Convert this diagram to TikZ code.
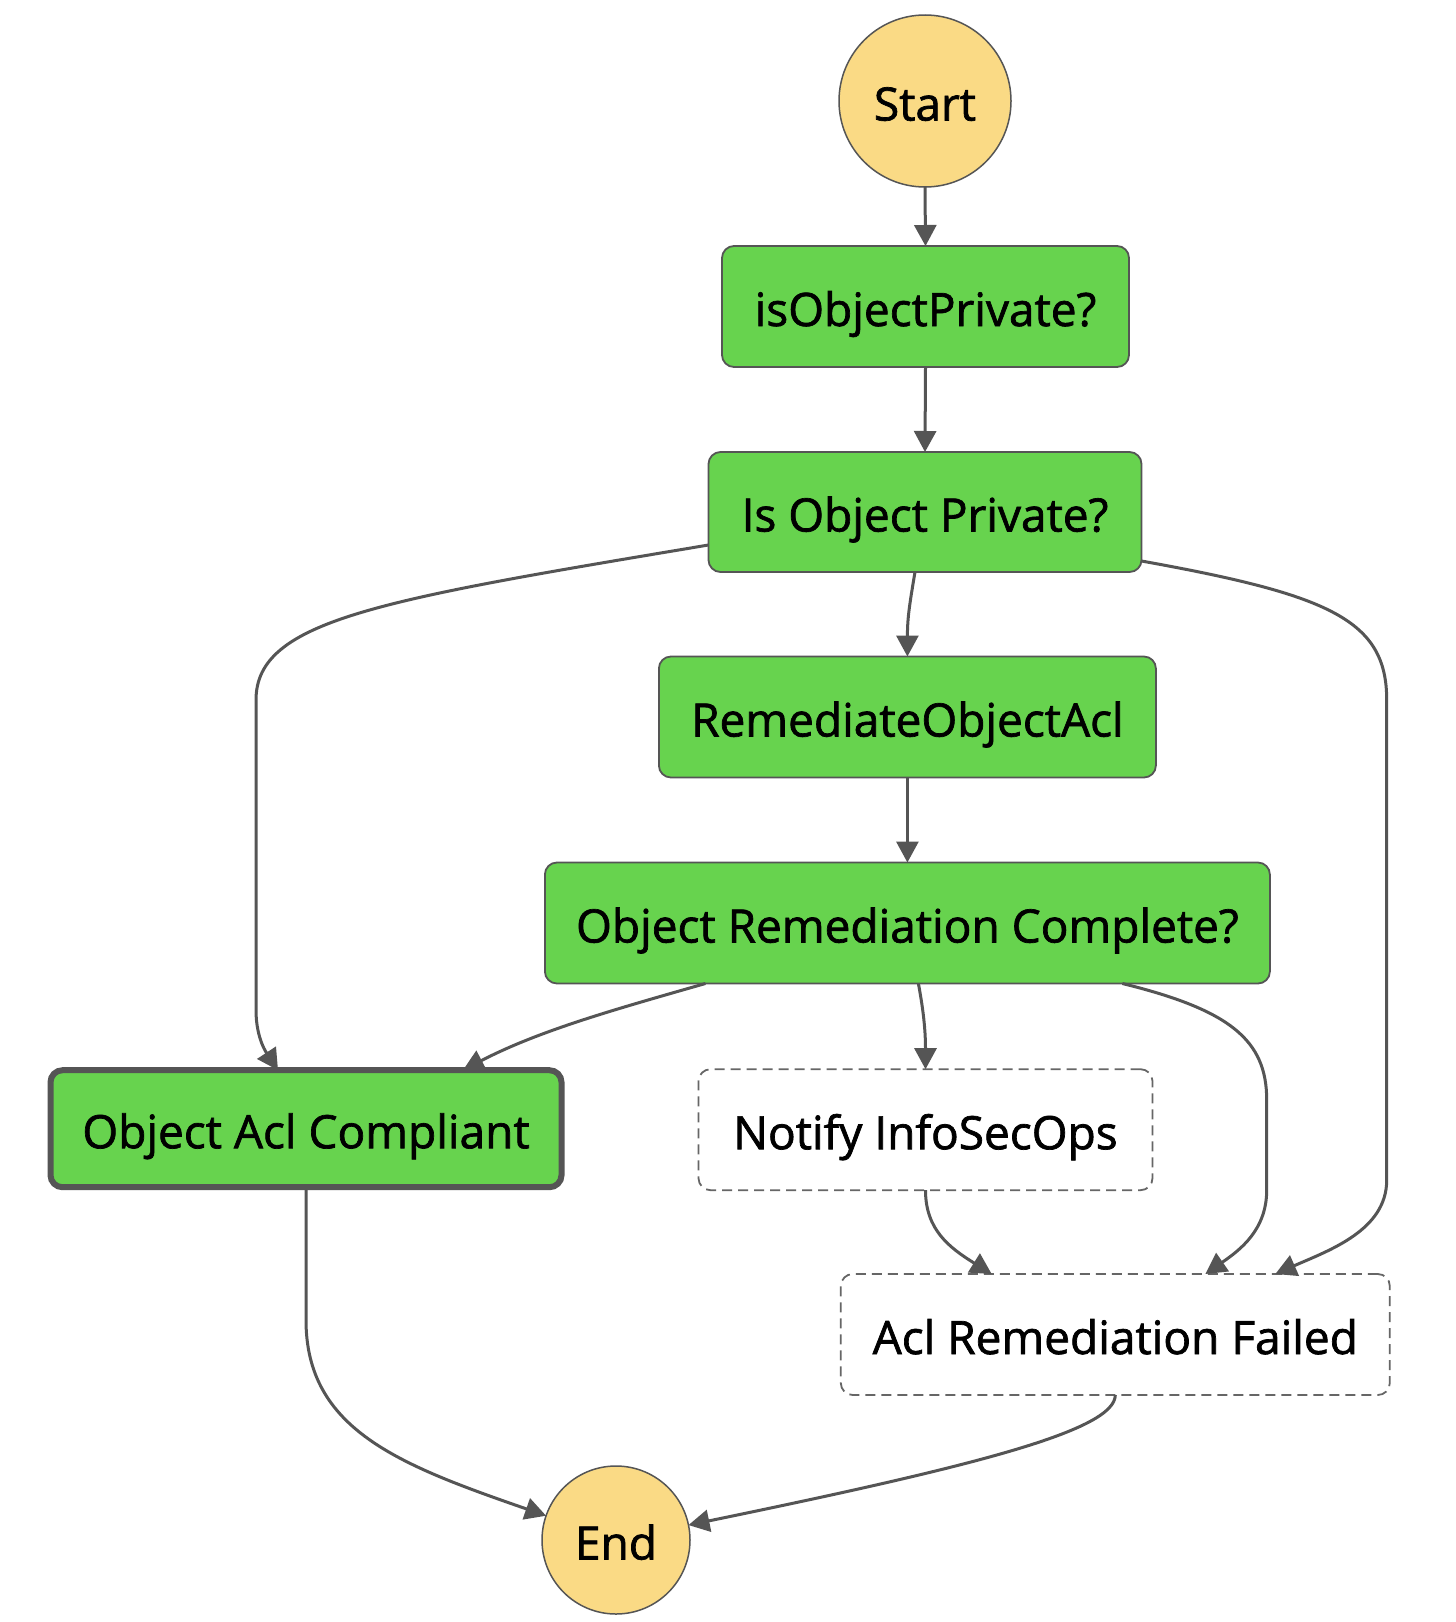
\documentclass[tikz,border=0pt]{standalone}
\usepackage{fontspec}
\setmainfont{Open Sans}[FakeBold=1.5]
\usetikzlibrary{arrows.meta}
\definecolor{stepgreen}{RGB}{103,211,78}
\definecolor{termyellow}{RGB}{250,218,133}
\definecolor{edgegray}{HTML}{555555}
\definecolor{dashgray}{HTML}{666666}
\tikzset{
  base/.style={inner sep=0pt, outer sep=0pt, text=black, font=\fontsize{46}{55}\selectfont,
    text height=39pt, text depth=0pt, align=center},
  term/.style={base, circle, draw=edgegray, line width=1.5pt, fill=termyellow},
  task/.style={base, rectangle, rounded corners=12pt, draw=edgegray, line width=1.8pt, fill=stepgreen, minimum height=121pt},
  finaltask/.style={task, line width=6pt, minimum height=117pt},
  passtask/.style={base, rectangle, rounded corners=12pt, draw=dashgray, line width=1.8pt, fill=white,
    dash pattern=on 10pt off 6pt, minimum height=121pt},
  edge/.style={draw=edgegray, line width=3pt, -{Triangle[length=21pt,width=22pt]}}
}
\begin{document}
\begin{tikzpicture}[x=1pt,y=-1pt]
\useasboundingbox[fill=white] (0,0) rectangle (1456,1622);
\node[term, minimum size=172pt] (start) at (925,101) {Start};
\node[task, minimum width=407pt] (isop) at (925.5,306.5) {isObjectPrivate?};
\node[task, minimum width=433pt, minimum height=120pt] (iop) at (925,512) {Is Object Private?};
\node[task, minimum width=497pt] (rem) at (907.4,717) {RemediateObjectAcl};
\node[task, minimum width=725pt] (orc) at (907.4,923) {Object Remediation Complete?};
\node[finaltask, minimum width=511pt] (oac) at (306,1128.7) {Object Acl Compliant};
\node[passtask, minimum width=454pt] (notify) at (925.5,1129.7) {Notify InfoSecOps};
\node[passtask, minimum width=549pt] (arf) at (1115.3,1334.5) {Acl Remediation Failed};
\node[term, minimum size=148pt] (end) at (616,1540) {End};

\draw[edge] (start.south) -- (isop.north);
\draw[edge] (isop.south) -- (iop.north);
\draw[edge] ([xshift=-10pt]iop.south) .. controls +(-5,30) and +(0,-40) .. (rem.north);
\draw[edge] ([yshift=-33pt]iop.west) .. controls (380,600) and (256,620) .. (256,700)
  -- (256,1010) .. controls (256,1040) and (268,1055) .. ([xshift=-28pt]oac.north);
\draw[edge] ([yshift=-49pt]iop.east) .. controls (1330,595) and (1386.7,620) .. (1386.7,700)
  -- (1386.7,1180) .. controls (1386.7,1230) and (1330,1250) .. ([xshift=160pt]arf.north);
\draw[edge] (rem.south) -- (orc.north);
\draw[edge] ([xshift=-202pt]orc.south) .. controls (620,1008) and (540,1030) .. ([xshift=157pt]oac.north);
\draw[edge] ([xshift=11pt]orc.south) .. controls +(5,27) and +(0,-39) .. (notify.north);
\draw[edge] ([xshift=215pt]orc.south) .. controls (1230,1010) and (1266.7,1040) .. (1266.7,1100)
  -- (1266.7,1190) .. controls (1266.7,1230) and (1240,1250) .. ([xshift=90pt]arf.north);
\draw[edge] (notify.south) .. controls +(0,40) and (950,1248) .. ([xshift=-123.6pt]arf.north);
\draw[edge] (oac.south) -- (306,1320) .. controls (306,1430) and (400,1465) .. (end);
\draw[edge] (arf.south) .. controls (1115,1430) and (980,1465) .. (end);
\end{tikzpicture}
\end{document}
